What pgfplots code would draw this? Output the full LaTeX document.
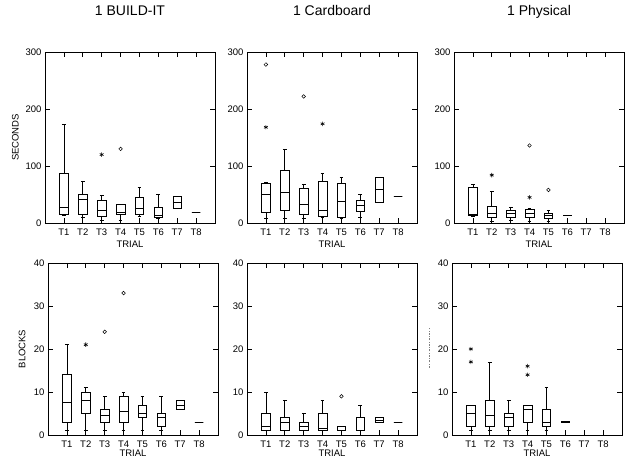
\documentclass[border=0pt]{standalone}
\usepackage{fontspec}
\setmainfont{Liberation Sans}
\usepackage{pgfplots}
\pgfplotsset{compat=1.18}
\usepgfplotslibrary{statistics}

% one box: position, lower whisker, lower quartile, median, upper quartile, upper whisker
\newcommand{\bx}[6]{\addplot[black, line width=0.6pt, boxplot prepared={draw position=#1,
  lower whisker=#2, lower quartile=#3, median=#4, upper quartile=#5, upper whisker=#6}] coordinates {};}
\newcommand{\outo}[2]{\addplot[black, only marks, mark=o, mark size=1.8pt, line width=0.5pt] coordinates {(#1,#2)};}
\newcommand{\outs}[2]{\addplot[black, only marks, mark=asterisk, mark size=2.2pt, line width=0.6pt] coordinates {(#1,#2)};}

\pgfplotsset{
  panel/.style={
    scale only axis, width=170pt,
    xmin=0, xmax=9, xtick={1,...,8},
    xticklabels={T1,T2,T3,T4,T5,T6,T7,T8},
    tick align=inside, major tick length=5pt,
    axis line style={line width=0.8pt},
    every tick/.style={black, line width=0.6pt},
    tick label style={font=\fontsize{9.5}{11}\selectfont},
    /pgf/number format/assume math mode=true,
    xticklabel style={anchor=base, yshift=-13pt},
    xlabel={TRIAL},
    xlabel style={font=\fontsize{9.5}{11}\selectfont, at={(axis description cs:0.5,0)}, anchor=base},
    ylabel style={font=\fontsize{9.5}{11}\selectfont},
    title style={font=\fontsize{14}{16}\selectfont, at={(axis description cs:0.5,1)}, anchor=base, yshift=30pt},
    boxplot/draw direction=y,
    boxplot/box extend=0.45, boxplot/whisker extend=0.2,
  },
  toprow/.style={panel, height=171pt, ymin=0, ymax=300, ytick={0,100,200,300},
    xlabel style={yshift=-25pt}},
  botrow/.style={panel, height=172pt, ymin=0, ymax=40, ytick={0,10,20,30,40},
    xlabel style={yshift=-22pt}},
}

\begin{document}
\begin{tikzpicture}
\useasboundingbox (0,0) rectangle (625pt,460pt);

% ---- seconds ----
\begin{axis}[toprow, at={(45pt,237pt)}, anchor=south west, title={1 BUILD-IT},
  ylabel={SECONDS}, ylabel style={at={(axis description cs:-0.175,0.5)}, anchor=center}]
\bx{1}{14}{15}{27}{87}{173}
\bx{2}{10}{15}{42}{51}{74}
\bx{3}{5}{12}{23}{39}{49} \outs{3}{120}
\bx{4}{5}{16}{19}{32}{33} \outo{4}{130}
\bx{5}{12}{16}{25}{45}{62}
\bx{6}{8}{10}{13}{27}{50}
\bx{7}{25}{25}{36}{47}{47}
\bx{8}{18}{18}{18}{18}{18}
\end{axis}

\begin{axis}[toprow, at={(247pt,237pt)}, anchor=south west, title={1 Cardboard}]
\bx{1}{8}{19}{51}{70}{71} \outo{1}{278} \outs{1}{168}
\bx{2}{8}{22}{53}{93}{129}
\bx{3}{8}{16}{32}{61}{68} \outo{3}{222}
\bx{4}{10}{12}{22}{74}{88} \outs{4}{174}
\bx{5}{8}{10}{38}{70}{81}
\bx{6}{10}{20}{31}{40}{50}
\bx{7}{37}{37}{59}{81}{81}
\bx{8}{46}{46}{46}{46}{46}
\end{axis}

\begin{axis}[toprow, at={(454pt,237pt)}, anchor=south west, title={1 Physical}]
\bx{1}{12}{13}{16}{63}{68}
\bx{2}{3}{10}{17}{30}{56} \outs{2}{84}
\bx{3}{5}{10}{17}{23}{28}
\bx{4}{3}{10}{17}{24}{25} \outo{4}{136} \outs{4}{45}
\bx{5}{3}{8}{13}{17}{23} \outo{5}{58}
\bx{6}{14}{14}{14}{14}{14}
\end{axis}

% ---- blocks ----
\begin{axis}[botrow, at={(48pt,25pt)}, anchor=south west,
  ylabel={BLOCKS}, ylabel style={at={(axis description cs:-0.153,0.5)}, anchor=center}]
\bx{1}{1}{3}{7.5}{14}{21}
\bx{2}{1}{5}{8}{10}{11} \outs{2}{21}
\bx{3}{1}{3}{4.5}{6}{9} \outo{3}{24}
\bx{4}{1}{3}{5.5}{9}{10} \outo{4}{33}
\bx{5}{1}{4}{5}{7}{9}
\bx{6}{1}{2}{4}{5}{9}
\bx{7}{6}{6}{7}{8}{8}
\bx{8}{3}{3}{3}{3}{3}
\end{axis}

\begin{axis}[botrow, at={(247pt,25pt)}, anchor=south west]
\bx{1}{1}{1}{2}{5}{10}
\bx{2}{1}{1}{3}{4}{8}
\bx{3}{1}{1}{2}{3}{5}
\bx{4}{1}{1}{1.5}{5}{8}
\bx{5}{1}{1}{2}{2}{2} \outo{5}{9}
\bx{6}{1}{1}{1}{4}{7}
\bx{7}{3}{3}{3.5}{4}{4}
\bx{8}{3}{3}{3}{3}{3}
\end{axis}

\begin{axis}[botrow, at={(452pt,25pt)}, anchor=south west]
\bx{1}{1}{2}{5}{7}{7} \outs{1}{20} \outs{1}{17}
\bx{2}{1}{2}{4.5}{8}{17}
\bx{3}{1}{2}{4}{5}{8}
\bx{4}{1}{3}{6}{7}{7} \outs{4}{16} \outs{4}{14}
\bx{5}{1}{2}{3}{6}{11}
\addplot[black, line width=1.3pt, boxplot prepared={draw position=6,
  lower whisker=3, lower quartile=3, median=3, upper quartile=3, upper whisker=3}] coordinates {};
\end{axis}

% faint remnant of a hidden axis label
\draw[gray, line width=0.4pt, dash pattern=on 2pt off 1.5pt on 0.5pt off 1.5pt] (429pt,92pt) -- (429pt,132pt);
\end{tikzpicture}
\end{document}
